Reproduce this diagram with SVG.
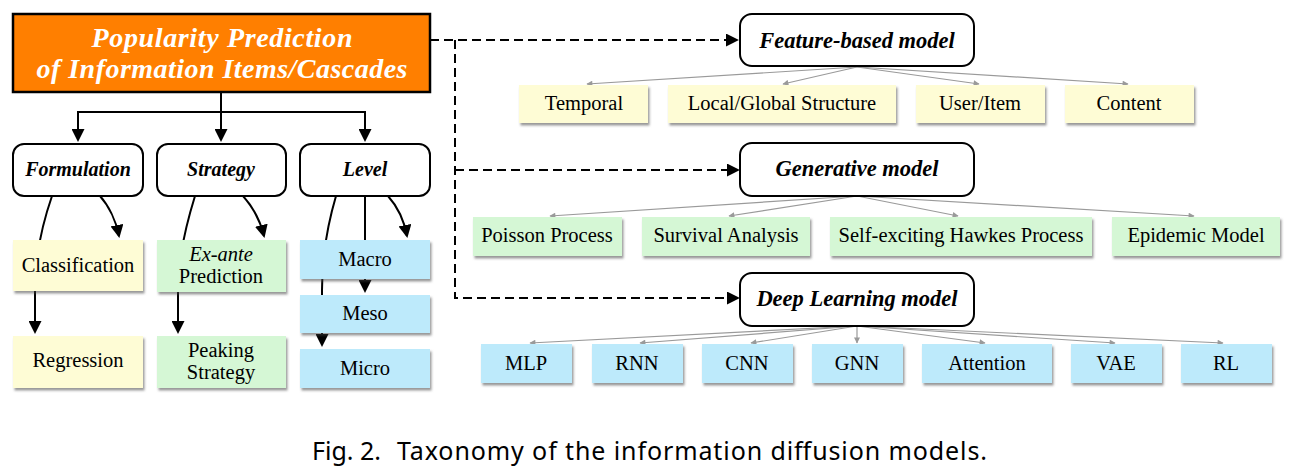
<svg xmlns="http://www.w3.org/2000/svg" width="1309" height="469" viewBox="0 0 1309 469">
<style>
.bg{fill:#ffffff}
.root{fill:#FF7F00;stroke:#000;stroke-width:2.5}
.title{font-family:"Liberation Serif",serif;font-style:italic;font-weight:bold;font-size:28px;fill:#fff;text-anchor:middle}
.cat{fill:#fff;stroke:#000;stroke-width:2}
.cattxt{font-family:"Liberation Serif",serif;font-style:italic;font-weight:bold;font-size:20px;fill:#000;text-anchor:middle}
.modtxt{font-family:"Liberation Serif",serif;font-style:italic;font-weight:bold;font-size:22.5px;fill:#000;text-anchor:middle}
.leaf{font-family:"Liberation Serif",serif;font-size:20.5px;fill:#000;text-anchor:middle}
.it{font-style:italic}
.y{fill:#FEFCD5;filter:url(#sh)}
.g{fill:#D5F7D5;filter:url(#sh)}
.b{fill:#BDEAFB;filter:url(#sh)}
.e{fill:none;stroke:#000;stroke-width:2;marker-end:url(#ah)}
.d{fill:none;stroke:#000;stroke-width:2;stroke-dasharray:9 5}
.ge{fill:none;stroke:#9a9a9a;stroke-width:1.2;marker-end:url(#gh)}
.cap{font-family:"Noto Sans","Liberation Sans",sans-serif;font-size:25px;fill:#000}
</style>
<defs>
<marker id="ah" viewBox="0 0 10 10" refX="8.5" refY="5" markerWidth="13" markerHeight="13" markerUnits="userSpaceOnUse" orient="auto">
<path d="M0,0 L10,5 L0,10 z" fill="#000"/>
</marker>
<marker id="gh" viewBox="0 0 10 10" refX="9" refY="5" markerWidth="7" markerHeight="6" markerUnits="userSpaceOnUse" orient="auto">
<path d="M0,0 L10,5 L0,10 z" fill="#9a9a9a"/>
</marker>
<filter id="sh" x="-10%" y="-20%" width="130%" height="150%">
<feDropShadow dx="1.5" dy="2.5" stdDeviation="1.2" flood-color="#444" flood-opacity="0.55"/>
</filter>
</defs>
<rect class="bg" x="0" y="0" width="1309" height="469"/>

<g id="connectors">
<path class="e" d="M221,92 V112 H78 V140"/>
<path class="e" d="M221,112 V140"/>
<path class="e" d="M221,112 H365 V140"/>
<path class="e" d="M100,196 C108,205 116,220 119,236"/>
<path class="e" d="M52,196 C42,225 35,260 35,290 L35,332"/>
<path class="e" d="M243,196 C252,206 260,220 264,236"/>
<path class="e" d="M195,196 C186,225 178,260 178,290 L178,332"/>
<path class="e" d="M388,196 C397,206 404,220 407,236"/>
<path class="e" d="M365,196 V291"/>
<path class="e" d="M336,196 C326,230 322,260 322,290 L322,345"/>
<path class="d" d="M430,40 H731"/>
<path class="d" d="M455,40 V298 H731"/>
<path class="d" d="M455,170 H731"/>
<path class="e" d="M729,40 H737"/>
<path class="e" d="M729,170 H738"/>
<path class="e" d="M729,298 H738"/>
<path class="ge" d="M857,67 L587,84"/>
<path class="ge" d="M857,67 L783,84"/>
<path class="ge" d="M857,67 L979,84"/>
<path class="ge" d="M857,67 L1128,84"/>
<path class="ge" d="M857,196 L550,216"/>
<path class="ge" d="M857,196 L729,216"/>
<path class="ge" d="M857,196 L958,216"/>
<path class="ge" d="M857,196 L1194,216"/>
<path class="ge" d="M857,326 L530,343"/>
<path class="ge" d="M857,326 L640,343"/>
<path class="ge" d="M857,326 L751,343"/>
<path class="ge" d="M857,326 L857,343"/>
<path class="ge" d="M857,326 L985,343"/>
<path class="ge" d="M857,326 L1115,343"/>
<path class="ge" d="M857,326 L1223,343"/>
</g>

<g id="root">
<rect class="root" x="13" y="14" width="417" height="78"/>
<text class="title" x="222" y="47" textLength="261">Popularity Prediction</text>
<text class="title" x="222" y="78" textLength="371">of Information Items/Cascades</text>
</g>

<g id="formulation">
<rect class="cat" x="13" y="144" width="130" height="52" rx="11"/>
<text class="cattxt" x="78" y="176">Formulation</text>
</g>
<g id="strategy">
<rect class="cat" x="157" y="144" width="129" height="52" rx="11"/>
<text class="cattxt" x="221" y="176">Strategy</text>
</g>
<g id="level">
<rect class="cat" x="300" y="144" width="130" height="52" rx="11"/>
<text class="cattxt" x="365" y="176">Level</text>
</g>

<g id="classification">
<rect class="y" x="13" y="240" width="130" height="51"/>
<text class="leaf" x="78" y="272">Classification</text>
</g>
<g id="regression">
<rect class="y" x="13" y="336" width="130" height="52"/>
<text class="leaf" x="78" y="367">Regression</text>
</g>
<g id="exante">
<rect class="g" x="157" y="240" width="129" height="52"/>
<text class="leaf it" x="221" y="261">Ex-ante</text>
<text class="leaf" x="221" y="283">Prediction</text>
</g>
<g id="peaking">
<rect class="g" x="157" y="336" width="129" height="52"/>
<text class="leaf" x="221" y="357">Peaking</text>
<text class="leaf" x="221" y="379">Strategy</text>
</g>
<g id="macro">
<rect class="b" x="300" y="240" width="130" height="39"/>
<text class="leaf" x="365" y="266">Macro</text>
</g>
<g id="meso">
<rect class="b" x="300" y="295" width="130" height="38"/>
<text class="leaf" x="365" y="320">Meso</text>
</g>
<g id="micro">
<rect class="b" x="300" y="349" width="130" height="39"/>
<text class="leaf" x="365" y="375">Micro</text>
</g>

<g id="feature">
<rect class="cat" x="740" y="14" width="234" height="52" rx="12"/>
<text class="modtxt" x="857" y="48">Feature-based model</text>
</g>
<g id="generative">
<rect class="cat" x="740" y="143" width="234" height="53" rx="12"/>
<text class="modtxt" x="857" y="176">Generative model</text>
</g>
<g id="deep">
<rect class="cat" x="740" y="273" width="234" height="53" rx="12"/>
<text class="modtxt" x="857" y="306">Deep Learning model</text>
</g>

<g id="temporal"><rect class="y" x="519" y="85" width="129" height="38"/><text class="leaf" x="584" y="110">Temporal</text></g>
<g id="localglobal"><rect class="y" x="668" y="85" width="228" height="38"/><text class="leaf" x="782" y="110">Local/Global Structure</text></g>
<g id="useritem"><rect class="y" x="916" y="85" width="129" height="38"/><text class="leaf" x="980" y="110">User/Item</text></g>
<g id="content"><rect class="y" x="1065" y="85" width="129" height="38"/><text class="leaf" x="1129" y="110">Content</text></g>

<g id="poisson"><rect class="g" x="473" y="217" width="149" height="39"/><text class="leaf" x="547" y="242">Poisson Process</text></g>
<g id="survival"><rect class="g" x="642" y="217" width="168" height="39"/><text class="leaf" x="726" y="242">Survival Analysis</text></g>
<g id="hawkes"><rect class="g" x="830" y="217" width="262" height="39"/><text class="leaf" x="961" y="242">Self-exciting Hawkes Process</text></g>
<g id="epidemic"><rect class="g" x="1112" y="217" width="168" height="39"/><text class="leaf" x="1196" y="242">Epidemic Model</text></g>

<g id="mlp"><rect class="b" x="481" y="344" width="91" height="39"/><text class="leaf" x="526" y="370">MLP</text></g>
<g id="rnn"><rect class="b" x="592" y="344" width="91" height="39"/><text class="leaf" x="637" y="370">RNN</text></g>
<g id="cnn"><rect class="b" x="702" y="344" width="91" height="39"/><text class="leaf" x="747" y="370">CNN</text></g>
<g id="gnn"><rect class="b" x="812" y="344" width="91" height="39"/><text class="leaf" x="857" y="370">GNN</text></g>
<g id="attention"><rect class="b" x="922" y="344" width="130" height="39"/><text class="leaf" x="987" y="370">Attention</text></g>
<g id="vae"><rect class="b" x="1071" y="344" width="91" height="39"/><text class="leaf" x="1116" y="370">VAE</text></g>
<g id="rl"><rect class="b" x="1181" y="344" width="91" height="39"/><text class="leaf" x="1226" y="370">RL</text></g>

<g id="caption">
<text class="cap" x="312" y="460" textLength="69">Fig. 2.</text>
<text class="cap" x="397" y="460" textLength="590">Taxonomy of the information diffusion models.</text>
</g>
</svg>
